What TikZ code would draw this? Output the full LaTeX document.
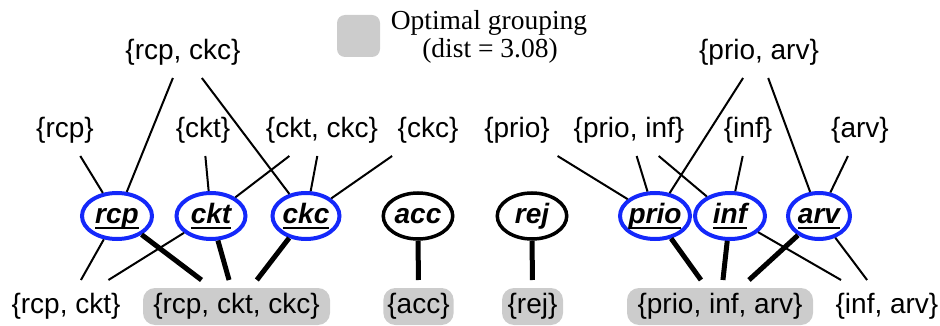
\documentclass[tikz,border=0pt]{standalone}
\usepackage{fontspec}
\setmainfont{Liberation Serif}
\setsansfont{Liberation Sans}
\usetikzlibrary{shapes.geometric}
\definecolor{selblue}{RGB}{20,40,250}
\definecolor{grpgray}{RGB}{204,204,204}
\newcommand\ulin[1]{\setbox0\hbox{#1}\rlap{\rule[-6.3pt]{\wd0}{2.6pt}}\box0}
\begin{document}
\begin{tikzpicture}[x=1pt,y=-1pt,
  lbl/.style={font=\sffamily\fontsize{28}{30}\selectfont, text height=20pt, text depth=6pt,
    minimum height=50pt, inner xsep=14pt, inner ysep=0pt, outer sep=0pt},
  blbl/.style={font=\sffamily\fontsize{28}{30}\selectfont, text height=20pt, text depth=6pt,
    inner xsep=4pt, inner ysep=5.5pt, outer sep=8pt, rounded corners=12pt},
  grp/.style={blbl, fill=grpgray},
  ell/.style={ellipse, font=\sffamily\bfseries\itshape\fontsize{28}{30}\selectfont,
    text height=20pt, text depth=6pt, inner sep=0pt, minimum height=46pt},
  sel/.style={ell, draw=selblue, line width=4pt},
  uns/.style={ell, draw=black, line width=3.5pt},
  edgelt/.style={line width=2pt},
  edgehv/.style={line width=5pt}]
\useasboundingbox (0,0) rectangle (940,326);

% legend
\node[fill=grpgray, rounded corners=8pt, minimum width=43pt, minimum height=42pt, inner sep=0pt] (legbox) at (358.5,36) {};
\node[font=\rmfamily\fontsize{27.5}{28}\selectfont, anchor=base, inner sep=0pt] (leg1) at (489,30) {Optimal grouping};
\node[font=\rmfamily\fontsize{27.5}{28}\selectfont, anchor=base, inner sep=0pt] (leg2) at (490,58) {(dist = 3.08)};

% attribute ellipses
\node[sel, minimum width=70pt] (rcp) at (117,216) {\makebox[0pt]{\ulin{rcp}}};
\node[sel, minimum width=69pt] (ckt) at (211,216) {\makebox[0pt]{\ulin{ckt}}};
\node[sel, minimum width=67pt] (ckc) at (306,216) {\makebox[0pt]{\ulin{ckc}}};
\node[uns, minimum width=69.5pt] (acc) at (418,216) {\makebox[0pt]{acc}};
\node[uns, minimum width=69.5pt] (rej) at (532,216) {\makebox[0pt]{rej}};
\node[sel, minimum width=70pt] (prio) at (655,216) {\makebox[0pt]{\ulin{prio}}};
\node[sel, minimum width=70pt] (inf) at (730,216) {\makebox[0pt]{\ulin{inf}}};
\node[sel, minimum width=62pt] (arv) at (819,216) {\makebox[0pt]{\ulin{arv}}};

% top labels
\node[lbl] (trcpckc) at (183,53) {\{rcp, ckc\}};
\node[lbl] (tprioarv) at (759,53) {\{prio, arv\}};

% middle labels
\node[lbl] (mrcp) at (65,131) {\{rcp\}};
\node[lbl] (mckt) at (203,131) {\{ckt\}};
\node[lbl] (mcktckc) at (322,131) {\{ckt, ckc\}};
\node[lbl] (mckc) at (428,131) {\{ckc\}};
\node[lbl] (mprio) at (517,131) {\{prio\}};
\node[lbl] (mprioinf) at (629,131) {\{prio, inf\}};
\node[lbl] (minf) at (748,131) {\{inf\}};
\node[lbl] (marv) at (860,131) {\{arv\}};

% bottom labels
\node[blbl] (brcpckt) at (66,306.5) {\{rcp, ckt\}};
\node[grp, minimum width=187pt] (grp1) at (236.5,306.5) {\{rcp, ckt, ckc\}};
\node[grp, minimum width=63pt] (bacc) at (418.5,306.5) {\{acc\}};
\node[grp, minimum width=61pt] (brej) at (532.5,306.5) {\{rej\}};
\node[grp, minimum width=186pt] (grp2) at (720,306.5) {\{prio, inf, arv\}};
\node[blbl] (binfarv) at (887,306.5) {\{inf, arv\}};

% thin edges
\draw[edgelt] (trcpckc) -- (rcp);
\draw[edgelt] (trcpckc) -- (ckc);
\draw[edgelt] (mrcp) -- (rcp);
\draw[edgelt] (mckt) -- (ckt);
\draw[edgelt] (mcktckc) -- (ckt);
\draw[edgelt] (mcktckc) -- (ckc);
\draw[edgelt] (mckc) -- (ckc);
\draw[edgelt] (mprio) -- (prio);
\draw[edgelt] (mprioinf) -- (prio);
\draw[edgelt] (mprioinf) -- (inf);
\draw[edgelt] (tprioarv) -- (prio);
\draw[edgelt] (tprioarv) -- (arv);
\draw[edgelt] (minf) -- (inf);
\draw[edgelt] (marv) -- (arv);
\draw[edgelt] (rcp) -- (brcpckt);
\draw[edgelt] (ckt) -- (brcpckt);
\draw[edgelt] (inf) -- (binfarv);
\draw[edgelt] (arv) -- (binfarv);

% thick edges
\draw[edgehv] (rcp) -- (grp1);
\draw[edgehv] (ckt) -- (grp1);
\draw[edgehv] (ckc) -- (grp1);
\draw[edgehv] (acc) -- (bacc);
\draw[edgehv] (rej) -- (brej);
\draw[edgehv] (prio) -- (grp2);
\draw[edgehv] (inf) -- (grp2);
\draw[edgehv] (arv) -- (grp2);
\end{tikzpicture}
\end{document}
